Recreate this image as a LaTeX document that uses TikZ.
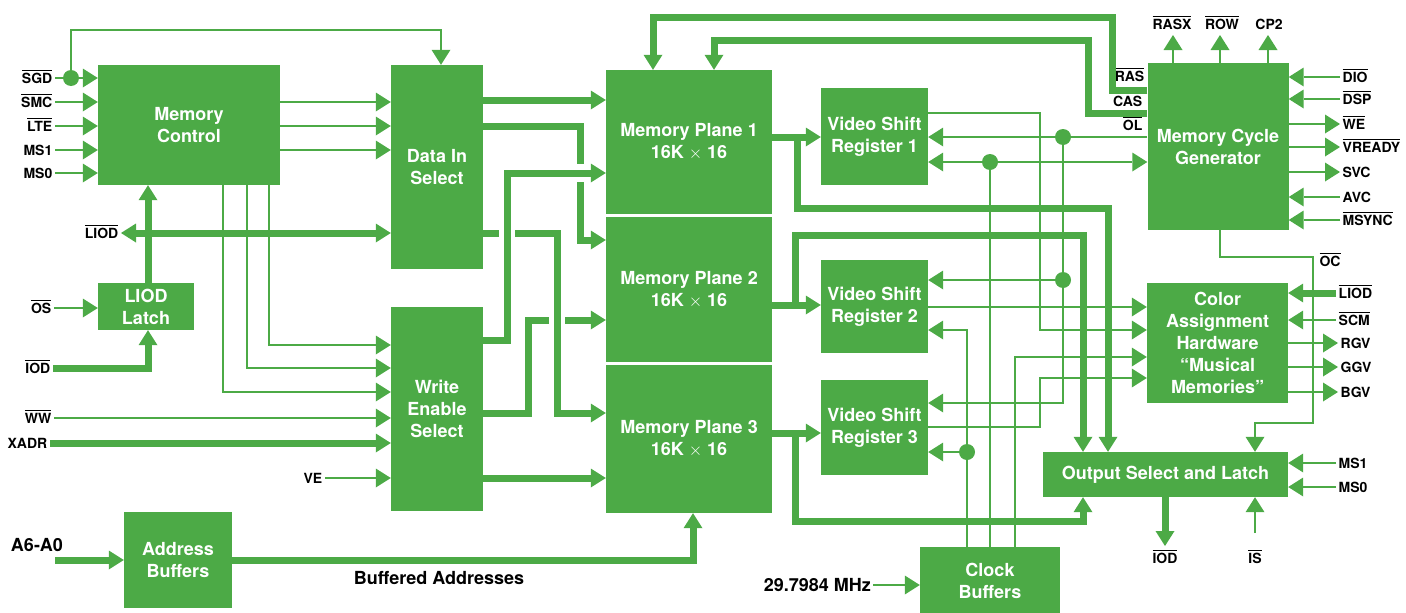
\documentclass[tikz,border=0pt]{standalone}
\usepackage{fontspec}
\setmainfont{TeX Gyre Heros}
\usetikzlibrary{arrows.meta}
\definecolor{hpg}{RGB}{76,170,70}
\newcommand{\ob}[1]{\vbox{\hrule height 1.3pt\kern 1.7pt\hbox{#1}}}
\begin{document}
\begin{tikzpicture}[x=1pt,y=-1pt,
  gt/.tip={Triangle[length=15pt,width=19pt,line width=0pt]},
  sig/.style={draw=hpg,line width=1.8pt},
  bus/.style={draw=hpg,line width=7pt},
  gap/.style={draw=white,line width=9pt},
  box/.style={fill=hpg,text=white,font=\bfseries\fontsize{18}{22}\selectfont,align=center,inner sep=0pt},
  lab/.style={font=\bfseries\fontsize{14}{16}\selectfont,inner xsep=2.5pt,inner ysep=0pt,text height=10pt,text depth=0pt},
  blab/.style={font=\bfseries\fontsize{18}{22}\selectfont,inner xsep=2pt,inner ysep=0pt,text height=13pt,text depth=0pt},
  dot/.style={circle,fill=hpg,inner sep=0pt,minimum size=16pt}]
\useasboundingbox (0,0) rectangle (1406,613);

% ---------- boxes
\node[box,minimum width=182pt,minimum height=120pt] (mc) at (189,125) {Memory\\Control};
\node[box,minimum width=92pt,minimum height=204pt] (dis) at (437,167) {Data In\\Select};
\node[box,minimum width=92pt,minimum height=204pt] (wes) at (437,409) {Write\\Enable\\Select};
\node[box,minimum width=96pt,minimum height=47pt] (latch) at (146,306.5) {LIOD\\Latch};
\node[box,minimum width=108pt,minimum height=96pt] (ab) at (178,560) {Address\\Buffers};
\node[box,minimum width=166pt,minimum height=144pt] (mp1) at (689,142) {Memory Plane 1\\16K $\times$ 16};
\node[box,minimum width=166pt,minimum height=145pt] (mp2) at (689,289.5) {Memory Plane 2\\16K $\times$ 16};
\node[box,minimum width=166pt,minimum height=148pt] (mp3) at (689,439) {Memory Plane 3\\16K $\times$ 16};
\node[box,minimum width=107pt,minimum height=97pt] (vsr1) at (874.5,136.5) {Video Shift\\Register 1};
\node[box,minimum width=107pt,minimum height=93pt] (vsr2) at (874.5,306.5) {Video Shift\\Register 2};
\node[box,minimum width=107pt,minimum height=95pt] (vsr3) at (874.5,427.5) {Video Shift\\Register 3};
\node[box,minimum width=141pt,minimum height=167pt] (mcg) at (1218,146.5) {Memory Cycle\\Generator};
\node[box,minimum width=141pt,minimum height=120pt] (cah) at (1217.5,343) {Color\\Assignment\\Hardware\\“Musical\\Memories”};
\node[box,minimum width=245pt,minimum height=45pt] (osl) at (1165.5,474.5) {Output Select and Latch};
\node[box,minimum width=140pt,minimum height=68pt] (cb) at (990,581) {Clock\\Buffers};

% ---------- left labels
\node[lab,anchor=east] (lSGD) at (55,78) {\ob{SGD}};
\node[lab,anchor=east] (lSMC) at (55,102) {\ob{SMC}};
\node[lab,anchor=east] (lLTE) at (55,126) {\ob{LTE}};
\node[lab,anchor=east] (lMSa) at (55,150) {MS1};
\node[lab,anchor=east] (lMSb) at (55,173) {MS0};
\node[lab,anchor=east] (lLIOD) at (121,233) {\ob{LIOD}};
\node[lab,anchor=east] (lOS) at (54,308) {\ob{OS}};
\node[lab,anchor=east] (lIOD) at (53,368) {\ob{IOD}};
\node[lab,anchor=east] (lWW) at (54,418) {\ob{WW}};
\node[lab,anchor=east] (lXADR) at (50,443) {XADR};
\node[lab,anchor=east] (lVE) at (325,478) {VE};
\node[blab] (lA) at (37,545) {A6-A0};
\node[blab] (lBA) at (439,578) {Buffered Addresses};
\node[blab,anchor=east] (lMHz) at (873,585) {29.7984 MHz};

% ---------- right labels
\node[lab,anchor=west] (lDIO) at (1340,77) {\ob{DIO}};
\node[lab,anchor=west] (lDSP) at (1340,99) {\ob{DSP}};
\node[lab,anchor=west] (lWE) at (1340,124) {\ob{WE}};
\node[lab,anchor=west] (lVR) at (1340,147) {\ob{VREADY}};
\node[lab,anchor=west] (lSVC) at (1340,172) {SVC};
\node[lab,anchor=west] (lAVC) at (1340,197) {AVC};
\node[lab,anchor=west] (lMSY) at (1340,220) {\ob{MSYNC}};
\node[lab] (lOC) at (1330,261) {\ob{OC}};
\node[lab,anchor=west] (lLIODr) at (1336,293) {\ob{LIOD}};
\node[lab,anchor=west] (lSCM) at (1336,320) {\ob{SCM}};
\node[lab,anchor=west] (lRGV) at (1338,343) {RGV};
\node[lab,anchor=west] (lGGV) at (1338,367) {GGV};
\node[lab,anchor=west] (lBGV) at (1338,392) {BGV};
\node[lab,anchor=west] (lMSc) at (1336,463) {MS1};
\node[lab,anchor=west] (lMSd) at (1336,487) {MS0};
\node[lab] (lIODb) at (1165,558) {\ob{IOD}};
\node[lab] (lIS) at (1255,558) {\ob{IS}};
\node[lab] (lRASX) at (1172,24) {\ob{RASX}};
\node[lab] (lROW) at (1222,24) {\ob{ROW}};
\node[lab] (lCP) at (1269,24) {CP2};
\node[lab,anchor=east] (lRAS) at (1147,76) {\ob{RAS}};
\node[lab,anchor=east] (lCAS) at (1145,101) {\ob{CAS}};
\node[lab,anchor=east] (lOL) at (1145,125) {\ob{OL}};

% ---------- dots
\node[dot] (dSGD) at (71,78) {};
\node[dot] (dOL) at (1063,137) {};
\node[dot] (dOL2) at (1063,280) {};
\node[dot] (dCK1) at (990,162) {};
\node[dot] (dCK3) at (967,452) {};

% ---------- Memory Control inputs
\draw[sig,-gt] (lSGD.east) -- (mc.west |- lSGD.east);
\draw[sig,-gt] (lSMC.east) -- (mc.west |- lSMC.east);
\draw[sig,-gt] (lLTE.east) -- (mc.west |- lLTE.east);
\draw[sig,-gt] (lMSa.east) -- (mc.west |- lMSa.east);
\draw[sig,-gt] (lMSb.east) -- (mc.west |- lMSb.east);
\draw[sig,-gt] (dSGD.center) -- (71,30) -- (441,30) -- (dis.north -| 441,0);

% Memory Control -> Data In Select / Write Enable Select
\draw[sig,-gt] (mc.east |- 0,102) -- (dis.west |- 0,102);
\draw[sig,-gt] (mc.east |- 0,126) -- (dis.west |- 0,126);
\draw[sig,-gt] (mc.east |- 0,150) -- (dis.west |- 0,150);
\draw[sig,-gt] (mc.south -| 269,0) -- (269,345) -- (wes.west |- 0,345);
\draw[sig,-gt] (mc.south -| 247,0) -- (247,368) -- (wes.west |- 0,368);
\draw[sig,-gt] (mc.south -| 223,0) -- (223,392) -- (wes.west |- 0,392);

% LIOD, latch
\draw[bus,gt-gt] (lLIOD.east) -- (dis.west |- lLIOD.east);
\draw[bus,-gt] (latch.north -| 148,0) -- (mc.south -| 148,0);
\draw[sig,-gt] (lOS.east) -- (latch.west |- lOS.east);
\draw[bus,-gt] (lIOD.east) -- (148,368) -- (latch.south -| 148,0);

% Write Enable Select inputs
\draw[sig,-gt] (lWW.east) -- (wes.west |- lWW.east);
\draw[bus,-gt] (lXADR.east) -- (wes.west |- lXADR.east);
\draw[sig,-gt] (lVE.east) -- (wes.west |- lVE.east);

% Address buffers
\coordinate (cA) at (55,560);
\draw[bus,-gt] (cA) -- (ab.west |- cA);
\draw[bus,-gt] (ab.east |- 0,560) -- (693,560) -- (mp3.south -| 693,0);

% DIS / WES -> memory planes
\draw[bus,-gt] (dis.east |- 0,100) -- (mp1.west |- 0,100);
\draw[bus,-gt] (wes.east |- 0,413) -- (528,413) -- (528,320) -- (mp2.west |- 0,320);
\draw[gap] (549,320) -- (565,320);
\draw[bus,-gt] (dis.east |- 0,233) -- (557,233) -- (557,413) -- (mp3.west |- 0,413);
\draw[gap] (499,233) -- (515,233);
\draw[bus,-gt] (dis.east |- 0,126) -- (580,126) -- (580,240) -- (mp2.west |- 0,240);
\draw[gap] (580,164) -- (580,182);
\draw[bus,-gt] (wes.east |- 0,340) -- (507,340) -- (507,173) -- (mp1.west |- 0,173);
\draw[bus,-gt] (wes.east |- 0,478) -- (mp3.west |- 0,478);

% Memory Cycle Generator -> memory plane (RAS, CAS)
\draw[bus,-gt] (mcg.west |- 0,90) -- (1112,90) -- (1112,17) -- (653,17) -- (mp1.north -| 653,0);
\draw[bus,-gt] (mcg.west |- 0,113) -- (1088,113) -- (1088,40) -- (714,40) -- (mp1.north -| 714,0);

% memory planes -> shift registers, output select
\draw[bus,-gt] (mp1.east |- 0,137) -- (vsr1.west |- 0,137);
\draw[bus,-gt] (797,137) -- (797,208) -- (1108,208) -- (osl.north -| 1108,0);
\draw[bus,-gt] (mp2.east |- 0,305) -- (vsr2.west |- 0,305);
\draw[bus,-gt] (795,305) -- (795,235) -- (1083,235) -- (osl.north -| 1083,0);
\draw[bus,-gt] (mp3.east |- 0,433) -- (vsr3.west |- 0,433);
\draw[bus,-gt] (795,433) -- (795,521) -- (1083,521) -- (osl.south -| 1083,0);

% OL distribution
\draw[sig,-gt] (mcg.west |- 0,137) -- (vsr1.east |- 0,137);
\draw[sig,-gt] (dOL.center) -- (dOL2.center) -- (vsr2.east |- 0,280);
\draw[sig,-gt] (dOL2.center) -- (1063,403) -- (vsr3.east |- 0,403);

% clock lines
\draw[sig,-gt] (cb.north -| 990,0) -- (dCK1.center) -- (vsr1.east |- 0,162);
\draw[sig,-gt] (dCK1.center) -- (mcg.west |- 0,162);
\draw[sig,-gt] (cb.north -| 967,0) -- (967,330) -- (vsr2.east |- 0,330);
\draw[sig,-gt] (dCK3.center) -- (vsr3.east |- 0,452);
\draw[sig,-gt] (cb.north -| 1015,0) -- (1015,357) -- (cah.west |- 0,357);
\draw[sig,-gt] (lMHz.east) -- (cb.west |- lMHz.east);

% shift register outputs
\draw[sig,-gt] (vsr1.east |- 0,113) -- (1040,113) -- (1040,330) -- (cah.west |- 0,330);
\draw[sig,-gt] (vsr2.east |- 0,307) -- (cah.west |- 0,307);
\draw[sig,-gt] (vsr3.east |- 0,427) -- (1040,427) -- (1040,378) -- (cah.west |- 0,378);

% Memory Cycle Generator top / right
\draw[sig,-gt] (mcg.north -| 1173,0) -- (1173,35);
\draw[sig,-gt] (mcg.north -| 1220,0) -- (1220,35);
\draw[sig,-gt] (mcg.north -| 1268,0) -- (1268,35);
\draw[sig,-gt] (lDIO.west) -- (mcg.east |- lDIO.west);
\draw[sig,-gt] (lDSP.west) -- (mcg.east |- lDSP.west);
\draw[sig,-gt] (mcg.east |- lWE.west) -- (lWE.west);
\draw[sig,-gt] (mcg.east |- lVR.west) -- (lVR.west);
\draw[sig,-gt] (mcg.east |- lSVC.west) -- (lSVC.west);
\draw[sig,-gt] (lAVC.west) -- (mcg.east |- lAVC.west);
\draw[sig,-gt] (lMSY.west) -- (mcg.east |- lMSY.west);

% OC
\draw[sig,-gt] (mcg.south -| 1220,0) -- (1220,257) -- (1313,257) -- (1313,423) -- (1255,423) -- (osl.north -| 1255,0);

% Color assignment right side
\draw[bus,-gt] (lLIODr.west) -- (cah.east |- lLIODr.west);
\draw[sig,-gt] (lSCM.west) -- (cah.east |- lSCM.west);
\draw[sig,-gt] (cah.east |- lRGV.west) -- (lRGV.west);
\draw[sig,-gt] (cah.east |- lGGV.west) -- (lGGV.west);
\draw[sig,-gt] (cah.east |- lBGV.west) -- (lBGV.west);

% Output select
\draw[sig,-gt] (lMSc.west) -- (osl.east |- lMSc.west);
\draw[sig,-gt] (lMSd.west) -- (osl.east |- lMSd.west);
\draw[bus,-gt] (osl.south -| lIODb) -- (1165,546);
\coordinate (cIS) at (1255,533);
\draw[sig,-gt] (cIS) -- (osl.south -| cIS);
\end{tikzpicture}
\end{document}
